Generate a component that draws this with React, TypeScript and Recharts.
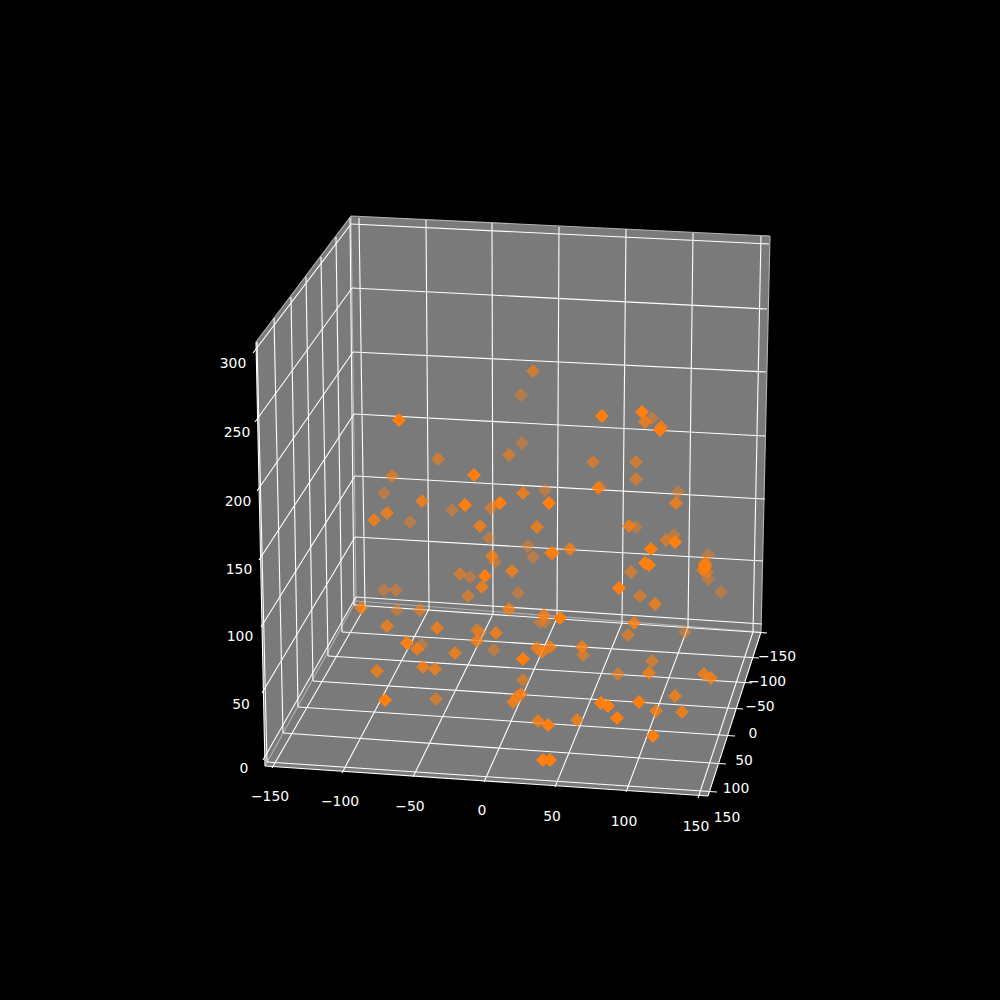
import React from "react";
import { ScatterChart, Scatter, XAxis, YAxis } from "recharts";

type Pt = number[];

// Every position below is in the projected picture plane of the 3D view.
const backPane: Pt[] = [[351, 216], [770, 236], [761, 632], [356, 601]];
const leftPane: Pt[] = [[351, 216], [256, 342], [265, 766], [356, 601]];
const floorPane: Pt[] = [[356, 601], [761, 632], [708, 796], [265, 766]];

const xGridBack: Pt[][] = [
  [[359, 218], [365, 607]], [[426, 220], [429, 609]], [[492, 223], [493, 614]], [[559, 227], [557, 618]],
  [[626, 229], [622, 623]], [[693, 233], [688, 627]], [[761, 236], [753, 632]],
];
const xGridFloor: Pt[][] = [
  [[365, 607], [272, 768]], [[429, 609], [342, 773]], [[493, 614], [413, 777]], [[557, 618], [484, 782]],
  [[622, 623], [555, 787]], [[688, 627], [626, 792]], [[753, 632], [698, 798]],
];
const yGridLeft: Pt[][] = [
  [[350, 218], [354, 605]], [[336, 237], [342, 632]], [[321, 257], [328, 656]], [[306, 277], [313, 681]],
  [[291, 297], [298, 707]], [[274, 318], [283, 733]], [[257, 342], [267, 762]],
];
const yGridFloor: Pt[][] = [
  [[354, 605], [767, 633]], [[342, 632], [759, 658]], [[328, 656], [752, 683]], [[313, 681], [743, 709]],
  [[298, 707], [735, 736]], [[283, 733], [726, 764]], [[267, 762], [717, 792]],
];
const zGridBack: Pt[][] = [
  [[351, 224], [769, 244]], [[352, 288], [767, 309]], [[353, 352], [766, 372]], [[354, 414], [765, 436]],
  [[355, 476], [765, 499]], [[355, 537], [763, 561]], [[356, 597], [762, 624]],
];
const zGridLeft: Pt[][] = [
  [[351, 224], [253, 353]], [[352, 288], [255, 422]], [[353, 352], [257, 491]], [[354, 414], [259, 560]],
  [[355, 476], [261, 627]], [[355, 537], [262, 693]], [[356, 597], [263, 760]],
];
const axisEdges: Pt[][] = [
  [[265, 766], [708, 796]], [[708, 796], [761, 632]], [[256, 342], [265, 766]],
];
const paneEdges: Pt[][] = [
  [[351, 216], [770, 236]], [[770, 236], [761, 632]], [[356, 601], [761, 632]],
  [[351, 216], [356, 601]], [[351, 216], [256, 342]], [[356, 601], [265, 766]],
];

const xTickLabels: [number, number, string][] = [
  [270, 796, "−150"], [340, 801, "−100"], [410, 806, "−50"], [482, 810, "0"],
  [552, 816, "50"], [624, 821, "100"], [696, 826, "150"],
];
const yTickLabels: [number, number, string][] = [
  [777, 656, "−150"], [767, 681, "−100"], [760, 706, "−50"], [753, 733, "0"],
  [744, 760, "50"], [736, 788, "100"], [727, 817, "150"],
];
const zTickLabels: [number, number, string][] = [
  [233, 363, "300"], [237, 432, "250"], [238, 501, "200"], [239, 569, "150"],
  [240, 636, "100"], [241, 704, "50"], [244, 768, "0"],
];

// Markers, farthest from the viewer first.
const farPoints: Pt[] = [
  [522, 443], [384, 493], [545, 490], [452, 510], [410, 522], [489, 538], [528, 546],
  [652, 418], [600, 487], [678, 492], [636, 527], [674, 535], [708, 555], [708, 579], [721, 592],
  [495, 562], [533, 557], [470, 577], [518, 593], [384, 590], [396, 590], [397, 610],
  [540, 622], [545, 622], [480, 633], [422, 645], [494, 650], [685, 632], [521, 395],
];
const midPoints: Pt[] = [
  [533, 371], [509, 455], [438, 459], [392, 476], [491, 508], [593, 462], [636, 462], [636, 479],
  [666, 540], [705, 563], [640, 596], [460, 574], [468, 596], [420, 610], [477, 630], [628, 635],
  [583, 655], [652, 661], [618, 674], [523, 680], [436, 699], [707, 572], [631, 572],
];
const nearPoints: Pt[] = [
  [422, 501], [387, 513], [374, 520], [537, 527], [645, 422], [676, 503], [629, 526],
  [570, 549], [655, 604], [512, 571], [361, 608], [509, 609], [544, 615], [387, 626], [437, 628],
  [477, 641], [537, 648], [550, 647], [377, 671], [435, 669], [634, 623], [582, 647], [649, 673],
  [704, 674], [711, 678], [523, 493], [480, 526], [598, 488], [553, 553], [551, 553], [703, 570],
  [482, 587], [492, 556], [417, 649], [496, 633], [661, 427], [455, 653], [542, 652], [423, 667],
  [521, 694], [513, 702], [517, 697], [538, 721], [675, 696], [656, 711], [682, 712], [577, 720],
];
const frontPoints: Pt[] = [
  [399, 420], [474, 475], [500, 503], [465, 505], [549, 503], [602, 416], [642, 412], [660, 430],
  [675, 542], [651, 549], [645, 563], [649, 565], [705, 567], [705, 565], [619, 588], [485, 576],
  [560, 618], [407, 643], [523, 659], [385, 700], [548, 725], [601, 703], [608, 706], [639, 702],
  [617, 718], [653, 736], [543, 760], [550, 760],
];

const rows = (pts: Pt[]) => pts.map(([x, y]) => ({ x, y }));
const labelRows = (pts: [number, number, string][]) => pts.map(([x, y, text]) => ({ x, y, text }));

const Nothing = () => <g />;

const Diamond = (opacity: number) => (p: any) => {
  const r = 7;
  const { cx, cy } = p;
  return (
    <polygon
      points={`${cx},${cy - r} ${cx + r},${cy} ${cx},${cy + r} ${cx - r},${cy}`}
      fill="#ff7f0e"
      fillOpacity={opacity}
    />
  );
};

const TickText = (p: any) => (
  <text
    x={p.cx}
    y={p.cy}
    fill="#ffffff"
    fontFamily="DejaVu Sans"
    fontSize={13.9}
    textAnchor="middle"
    dominantBaseline="central"
  >
    {p.payload.text}
  </text>
);

const PaneShape = (p: any) => (
  <polygon points={p.points.map((q: any) => `${q.x},${q.y}`).join(" ")} fill="#7a7a7a" stroke="none" />
);

const panes = [backPane, leftPane, floorPane];
const gridFamilies = [xGridBack, xGridFloor, yGridLeft, yGridFloor, zGridBack, zGridLeft];
const groups: [Pt[], number][] = [
  [farPoints, 0.45],
  [midPoints, 0.6],
  [nearPoints, 0.78],
  [frontPoints, 1],
];

const segment = (seg: Pt[], key: string, stroke: string, width: number) => (
  <Scatter
    key={key}
    data={rows(seg)}
    line={{ stroke, strokeWidth: width }}
    shape={Nothing}
    isAnimationActive={false}
  />
);

export default function App() {
  return (
    <div style={{ position: "absolute", left: 0, top: 0, width: 1000, height: 1000, background: "#000" }}>
      <ScatterChart width={1000} height={1000} margin={{ top: 0, right: 0, bottom: 0, left: 0 }}>
        <XAxis type="number" dataKey="x" domain={[0, 1000]} hide />
        <YAxis type="number" dataKey="y" domain={[0, 1000]} reversed hide />
        {panes.map((pane, i) => (
          <Scatter
            key={`pane${i}`}
            data={rows(pane)}
            line={PaneShape}
            shape={Nothing}
            isAnimationActive={false}
          />
        ))}
        {paneEdges.map((e, i) => segment(e, `edge${i}`, "#b4b4b4", 1.1))}
        {gridFamilies.flatMap((family, f) =>
          family.map((g, i) => segment(g, `grid${f}-${i}`, "#ffffff", 1.1))
        )}
        {axisEdges.map((e, i) => segment(e, `axis${i}`, "#ffffff", 1.1))}
        {groups.map(([pts, opacity], i) => (
          <Scatter key={`pts${i}`} data={rows(pts)} shape={Diamond(opacity)} isAnimationActive={false} />
        ))}
        {[xTickLabels, yTickLabels, zTickLabels].map((t, i) => (
          <Scatter key={`ticks${i}`} data={labelRows(t)} shape={TickText} isAnimationActive={false} />
        ))}
      </ScatterChart>
    </div>
  );
}
